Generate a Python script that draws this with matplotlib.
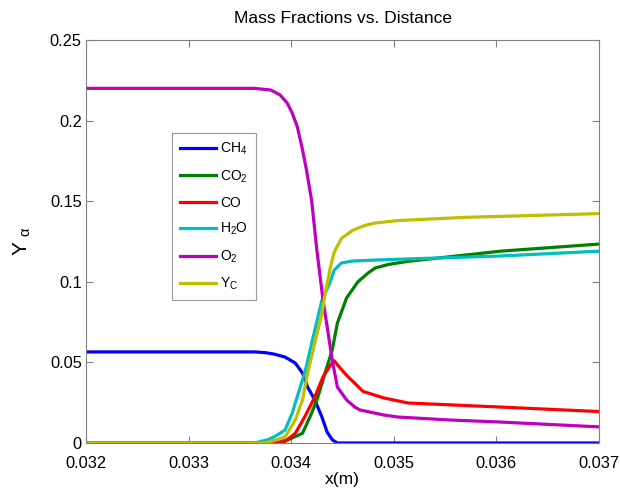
import matplotlib
matplotlib.use("Agg")
import matplotlib.pyplot as plt

plt.rcParams['font.family'] = ['Liberation Sans', 'DejaVu Sans']
plt.rcParams['mathtext.fontset'] = 'custom'
plt.rcParams['mathtext.rm'] = 'Liberation Sans'
plt.rcParams['mathtext.it'] = 'Liberation Sans'

# ----- data -----
x_ch4 = [0.032, 0.03364, 0.03374, 0.03383, 0.03394, 0.03404, 0.03411, 0.03416, 0.03423,
         0.0343, 0.03435, 0.0344, 0.03445, 0.037]
y_ch4 = [0.0565, 0.0565, 0.0561, 0.0552, 0.0533, 0.0496, 0.0434, 0.0347, 0.0267,
         0.016, 0.0068, 0.002, 0.0, 0.0]

x_co2 = [0.032, 0.03384, 0.03397, 0.03411, 0.0342, 0.03426, 0.03433, 0.0344,
         0.03445, 0.03454, 0.03465, 0.03475, 0.03482, 0.03495, 0.03514, 0.03604, 0.037]
y_co2 = [0.0, 0.0, 0.002, 0.006, 0.0186, 0.0285, 0.0434, 0.0577,
         0.0744, 0.0900, 0.100, 0.1055, 0.1086, 0.1108, 0.1127, 0.119, 0.1234]

x_co = [0.032, 0.03384, 0.03394, 0.03404, 0.03413, 0.03423, 0.03431, 0.03438,
        0.03442, 0.03447, 0.03454, 0.03462, 0.0347, 0.0349, 0.03514, 0.03604, 0.037]
y_co = [0.0, 0.0, 0.001, 0.006, 0.016, 0.0285, 0.041, 0.048,
        0.051, 0.047, 0.042, 0.037, 0.032, 0.028, 0.0248, 0.0223, 0.0195]

x_h2o = [0.032, 0.03364, 0.03377, 0.03384, 0.03394, 0.03401, 0.03407, 0.03414, 0.0342,
         0.03426, 0.0343, 0.03438, 0.03442, 0.03449, 0.0346, 0.03482, 0.03514,
         0.03604, 0.037]
y_h2o = [0.0, 0.0, 0.002, 0.004, 0.008, 0.0186, 0.031, 0.0453, 0.062,
         0.078, 0.0887, 0.0999, 0.1073, 0.1117, 0.1129, 0.1135, 0.1142,
         0.116, 0.119]

x_o2 = [0.032, 0.03364, 0.0338, 0.03389, 0.03396, 0.03401, 0.03406, 0.03411,
        0.03415, 0.0342, 0.03425, 0.03431, 0.03436, 0.0344, 0.03445, 0.03454,
        0.03462, 0.03467, 0.0349, 0.03504, 0.03554, 0.03604, 0.037]
y_o2 = [0.220, 0.220, 0.219, 0.216, 0.211, 0.2047, 0.196, 0.182,
        0.169, 0.150, 0.1197, 0.0887, 0.0682, 0.0515, 0.0347, 0.0267,
        0.0223, 0.0205, 0.0174, 0.0161, 0.0143, 0.013, 0.010]

x_yc = [0.032, 0.03374, 0.03386, 0.03394, 0.03404, 0.03411, 0.03416, 0.03423,
        0.0343, 0.03432, 0.03438, 0.03442, 0.03449, 0.0346, 0.03472, 0.03482,
        0.03504, 0.0357, 0.037]
y_yc = [0.0, 0.0, 0.002, 0.0037, 0.0143, 0.0267, 0.0434, 0.062,
        0.0806, 0.0887, 0.1085, 0.1185, 0.127, 0.132, 0.135, 0.1365,
        0.138, 0.140, 0.1423]

labels = ['CH$_4$', 'CO$_2$', 'CO', 'H$_2$O', 'O$_2$', 'Y$_C$']
colors = ['#0000ff', '#008000', '#ff0000', '#00bfbf', '#bf00bf', '#bfbf00']

xticks = [0.032, 0.033, 0.034, 0.035, 0.036, 0.037]
xticklabels = ['0.032', '0.033', '0.034', '0.035', '0.036', '0.037']
yticks = [0, 0.05, 0.1, 0.15, 0.2, 0.25]
yticklabels = ['0', '0.05', '0.1', '0.15', '0.2', '0.25']

# ----- plot -----
fig = plt.figure(figsize=(6.2, 4.9), dpi=100)
ax = fig.add_axes([86/620, 1 - 443/490, 513/620, 403/490])

series = [(x_ch4, y_ch4), (x_co2, y_co2), (x_co, y_co),
          (x_h2o, y_h2o), (x_o2, y_o2), (x_yc, y_yc)]
for (xs, ys), lab, col in zip(series, labels, colors):
    ax.plot(xs, ys, color=col, linewidth=2.3, label=lab, solid_joinstyle='round')

ax.set_xlim(0.032, 0.037)
ax.set_ylim(0, 0.25)
ax.set_xticks(xticks)
ax.set_xticklabels(xticklabels)
ax.set_yticks(yticks)
ax.set_yticklabels(yticklabels)
ax.tick_params(direction='in', top=True, right=True, labelsize=11.8,
               length=5, color='0.5')
ax.tick_params(axis='x', pad=9)
ax.tick_params(axis='y', pad=3)
for s in ax.spines.values():
    s.set_color('0.5')

ax.set_title('Mass Fractions vs. Distance', fontsize=12.5, pad=12)
ax.set_xlabel('x(m)', fontsize=12.5, labelpad=1)
ax.set_ylabel('Y $_\\alpha$', fontsize=15, labelpad=12)

leg = ax.legend(loc='upper left', bbox_to_anchor=(0.168, 0.769), borderaxespad=0,
                fancybox=False, fontsize=10, labelspacing=0.8,
                handlelength=2.6, handletextpad=0.3, borderpad=0.55)
leg.get_frame().set_edgecolor('0.5')
leg.get_frame().set_linewidth(0.8)

fig.savefig('out.png', dpi=100)
